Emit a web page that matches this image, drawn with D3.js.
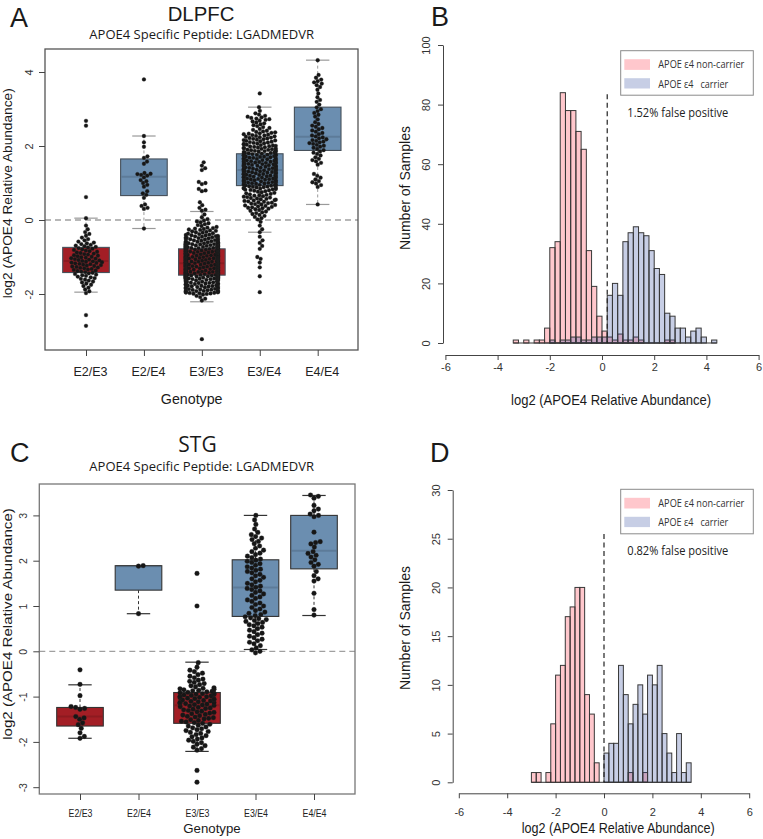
<!DOCTYPE html>
<html><head><meta charset="utf-8">
<script src="https://cdn.jsdelivr.net/npm/d3@7"></script>
<style>body{margin:0;background:#fff}svg{display:block}text{white-space:pre}</style>
</head><body>
<svg id="chart" width="763" height="839"></svg>
<script>
// ---------------- DATA ----------------
const genotypes = ["E2/E3", "E2/E4", "E3/E3", "E3/E4", "E4/E4"];
const carrier = [false, true, false, true, true];

// DLPFC box statistics
const dlpfcLower = [-1.95, -0.23, -2.21, -0.33, 0.42];
const dlpfcQ1 = [-1.42, 0.66, -1.49, 0.93, 1.88];
const dlpfcMedian = [-1.11, 1.17, -1.17, 1.35, 2.25];
const dlpfcQ3 = [-0.74, 1.65, -0.78, 1.79, 3.05];
const dlpfcUpper = [0.05, 2.27, 0.23, 3.05, 4.32];
// DLPFC swarm: counts per 0.1-wide bin, first bin centre
const dlpfcSwarmStart = [-1.95, 0, -2.15, -0.25, 0.42];
const dlpfcSwarmCounts = [
  [2,2,3,4,5,6,7,8,9,8,7,6,6,5,3,2,2,1,1,0,1],
  [],
  [2,3,16,14,15,15,38,38,36,35,35,34,32,32,30,29,13,13,8,8,4,4,2,1,1],
  [1,1,1,3,4,5,8,8,9,8,7,12,13,14,14,15,15,14,14,13,13,12,11,10,9,9,8,4,4,4,6,3,1,1],
  [1,0,0,0,0,2,3,2,2,0,0,2,3,2,3,3,4,5,4,3,3,3,2,1,2,2,2,1,2,1,1,1,2,3,2,1,0,0,0,1]
];
// DLPFC individually read points (outliers / small groups)
const dlpfcPoints = [
  [2.68, 2.55, 0.62, -2.57, -2.86],
  [3.80, 2.27, 2.10, 1.98, 1.72, 1.68, 1.58, 1.52, 1.27, 1.25, 1.24, 1.22, 1.20, 1.15, 1.08, 1.05, 1.00, 0.95, 0.90, 0.78, 0.72, 0.68, 0.60, 0.42, 0.38, 0.33, 0.30, -0.23],
  [1.56, 1.47, 1.40, 1.35, 1.03, 1.00, 0.97, 0.84, 0.80, 0.78, 0.48, 0.40, 0.33, 0.28, -3.22],
  [3.42, -0.33, -0.45, -0.55, -0.62, -0.70, -0.78, -1.00, -1.05, -1.15, -1.28, -1.52, -1.95],
  []
];

// STG box statistics
const stgLower = [-1.92, 0.83, -2.21, 0.04, 0.79];
const stgQ1 = [-1.65, 1.35, -1.59, 0.77, 1.82];
const stgMedian = [-1.44, 1.88, -1.19, 1.41, 2.22];
const stgQ3 = [-1.24, 1.89, -0.91, 2.02, 3.00];
const stgUpper = [-0.74, 1.89, -0.24, 3.00, 3.44];
const stgSwarmStart = [0, 0, -2.15, 0.0, 0];
const stgSwarmCounts = [
  [],
  [],
  [3,3,4,4,5,5,6,7,7,7,10,10,10,9,4,4,3,3,1,1],
  [3,2,3,3,3,3,4,5,4,3,3,3,3,3,4,3,3,3,4,3,4,3,3,2,2,3,2,1,1,1,1],
  []
];
const stgPoints = [
  [-0.41, -0.73, -0.98, -1.22, -1.24, -1.26, -1.28, -1.44, -1.47, -1.50, -1.58, -1.62, -1.70, -1.80, -1.88, -1.92],
  [1.88, 1.89, 0.83],
  [1.72, 1.00, -2.63, -2.89],
  [],
  [3.45, 3.42, 3.38, 3.22, 3.14, 3.10, 3.03, 3.00, 2.97, 2.63, 2.42, 2.40, 2.37, 2.30, 2.20, 2.16, 2.12, 2.08, 2.02, 1.96, 1.92, 1.88, 1.76, 1.67, 1.60, 1.55, 1.28, 0.92, 0.80]
];

// Histograms (bin width 0.2), first bin left edge + counts
const histBinWidth = 0.2;
const dlpfcNonCarrierStart = -3.4;
const dlpfcNonCarrierCounts = [1,0,1,0,1,1,5,32,34,84,78,78,71,65,31,19,9,4,2,1,3,1,1,2,1,0,0,0,0,1,1];
const dlpfcCarrierStart = -2.0;
const dlpfcCarrierCounts = [1,0,1,1,2,2,1,1,2,2,2,16,20,16,34,37,39,37,36,31,25,23,10,9,5,5,2,4,5,2,0,1];
const stgNonCarrierStart = -3.0;
const stgNonCarrierCounts = [1,1,0,1,6,11,12,17,18,20,20,9,7,2,0,0,0,0,0,0,1,0,0,1];
const stgCarrierStart = 0.0;
const stgCarrierCounts = [3,4,4,12,9,6,8,10,7,11,10,12,5,3,1,5,1,2];

const histXTicks = [-6, -4, -2, 0, 2, 4, 6];
const dlpfcHistYTicks = [0, 20, 40, 60, 80, 100];
const stgHistYTicks = [0, 5, 10, 15, 20, 25, 30];
const dlpfcThreshold = 0.2;
const stgThreshold = 0.0;
const dlpfcFalsePositive = "1.52% false positive";
const stgFalsePositive = "0.82% false positive";
const legendLabels = ["APOE \u03b54 non-carrier", "APOE \u03b54   carrier"];

// ---------------- DRAWING ----------------
const svg = d3.select("#chart");
const SANS = "'Liberation Sans', Arial, sans-serif";
const HUM = "'Open Sans', 'DejaVu Sans', sans-serif";
const RED = "#a31e25", BLUE = "#6b8eb0";
const PINK = "rgba(255,0,25,0.22)", LBLUE = "rgba(30,60,150,0.25)";

function txt(x, y, s, size, fam, opts = {}) {
  const t = svg.append("text").attr("x", x).attr("y", y).text(s)
    .attr("font-size", size).attr("font-family", fam)
    .attr("fill", opts.fill || "#1a1a1a")
    .attr("text-anchor", opts.anchor || "start");
  if (opts.len) t.attr("textLength", opts.len).attr("lengthAdjust", "spacingAndGlyphs");
  if (opts.rot) t.attr("transform", `rotate(-90,${x},${y})`);
  return t;
}

function expand(start, counts, step) {
  const out = [];
  counts.forEach((n, i) => {
    const c = start + i * step;
    for (let k = 0; k < n; k++) out.push(c + ((k + 0.5) / n - 0.5) * step);
  });
  return out;
}

function swarm(ys, D, w) {
  const order = ys.map((y, i) => i).sort((a, b) => ys[b] - ys[a]);
  const placed = [];
  const xs = new Array(ys.length);
  for (const i of order) {
    const y = ys[i];
    const near = placed.filter(p => Math.abs(p.y - y) < D);
    const cands = [0];
    near.forEach(p => {
      const dx = Math.sqrt(D * D - (p.y - y) * (p.y - y));
      cands.push(p.x + dx, p.x - dx);
    });
    cands.sort((a, b) => Math.abs(a) - Math.abs(b));
    let best = 0;
    for (const c of cands) {
      if (near.every(p => (p.x - c) * (p.x - c) + (p.y - y) * (p.y - y) >= D * D - 1e-6)) { best = c; break; }
    }
    placed.push({ x: best, y });
    xs[i] = best;
  }
  return xs.map(x => Math.max(-w, Math.min(w, x)));
}

function boxPanel(o) {
  const g = svg.append("g");
  const f = o.frame;
  const x = d3.scalePoint().domain(genotypes).range(o.xRange);
  const y = d3.scaleLinear().domain(o.yDomain).range([f.b, f.t]);

  g.append("line").attr("x1", f.l).attr("x2", f.r).attr("y1", y(0)).attr("y2", y(0))
    .attr("stroke", "#a0a0a0").attr("stroke-width", 1.3).attr("stroke-dasharray", "6,4");

  genotypes.forEach((gt, i) => {
    const cx = x(gt);
    const col = carrier[i] ? BLUE : RED;
    const q1 = o.q1[i], q3 = o.q3[i];
    const wk = (a, b) => g.append("line").attr("x1", cx).attr("x2", cx).attr("y1", y(a)).attr("y2", y(b))
      .attr("stroke", o.whiskerColor).attr("stroke-width", 1).attr("stroke-dasharray", "3,2.5");
    const cap = v => g.append("line").attr("x1", cx - o.capHalf).attr("x2", cx + o.capHalf).attr("y1", y(v)).attr("y2", y(v))
      .attr("stroke", o.whiskerColor).attr("stroke-width", 1.2);
    if (o.upper[i] > q3 + 1e-9) { wk(q3, o.upper[i]); cap(o.upper[i]); }
    if (o.lower[i] < q1 - 1e-9) { wk(q1, o.lower[i]); cap(o.lower[i]); }
    g.append("rect").attr("x", cx - o.boxHalf).attr("width", 2 * o.boxHalf)
      .attr("y", y(q3)).attr("height", y(q1) - y(q3))
      .attr("fill", col).attr("stroke", o.boxStroke).attr("stroke-width", 1.1);
    g.append("line").attr("x1", cx - o.boxHalf + 1).attr("x2", cx + o.boxHalf - 1)
      .attr("y1", y(o.median[i])).attr("y2", y(o.median[i]))
      .attr("stroke", "rgba(0,0,0,0.13)").attr("stroke-width", 2);
  });

  genotypes.forEach((gt, i) => {
    const vals = expand(o.swStart[i], o.swCounts[i], 0.1).concat(o.points[i]);
    const ys = vals.map(v => y(v));
    const xs = swarm(ys, 2 * o.r, o.corral);
    const cx = x(gt);
    g.selectAll(null).data(ys).enter().append("circle")
      .attr("cx", (d, k) => cx + xs[k]).attr("cy", d => d).attr("r", o.r)
      .attr("fill", "#161616").attr("stroke", "#2a2a2a").attr("stroke-width", 0.3);
  });

  g.append("rect").attr("x", f.l).attr("y", f.t).attr("width", f.r - f.l).attr("height", f.b - f.t)
    .attr("fill", "none").attr("stroke", o.frameColor).attr("stroke-width", 1.3);

  const yg = g.append("g").attr("transform", `translate(${f.l},0)`)
    .call(d3.axisLeft(y).tickValues(o.yTicks).tickSize(6).tickFormat(d => String(d)));
  yg.select(".domain").remove();
  yg.selectAll(".tick line").attr("stroke", "#444");
  yg.selectAll(".tick text").attr("x", null).attr("dy", null)
    .attr("transform", `translate(${o.yLabDx},0) rotate(-90)`).attr("text-anchor", "middle")
    .attr("font-size", o.yTickSize).attr("font-family", SANS).attr("fill", "#333");
  const xg = g.append("g").attr("transform", `translate(0,${f.b})`)
    .call(d3.axisBottom(x).tickSize(6).tickSizeOuter(0));
  xg.select(".domain").remove();
  xg.selectAll(".tick line").attr("stroke", "#444");
  const xt = xg.selectAll(".tick text").attr("y", o.xLabDy).attr("dy", null).attr("x", o.xLabDx)
    .attr("font-size", o.xTickSize).attr("font-family", SANS).attr("fill", "#222");
  if (o.xTickLen) xt.attr("textLength", o.xTickLen).attr("lengthAdjust", "spacingAndGlyphs");
}

function histPanel(o) {
  const g = svg.append("g");
  const x = d3.scaleLinear().domain([-6, 6]).range(o.xRange);
  const y = d3.scaleLinear().domain([0, o.yMax]).range(o.yRange);
  const drawSeries = (start, counts, fill) => {
    g.append("line").attr("x1", x(start)).attr("x2", x(start + counts.length * histBinWidth))
      .attr("y1", y(0)).attr("y2", y(0)).attr("stroke", "#333").attr("stroke-width", 1);
    counts.forEach((c, i) => {
      if (c <= 0) return;
      const lo = start + i * histBinWidth;
      g.append("rect").attr("x", x(lo)).attr("width", x(lo + histBinWidth) - x(lo))
        .attr("y", y(c)).attr("height", y(0) - y(c))
        .attr("fill", fill).attr("stroke", "#383838").attr("stroke-width", 1);
    });
  };
  drawSeries(o.ncStart, o.ncCounts, PINK);
  drawSeries(o.cStart, o.cCounts, LBLUE);

  g.append("line").attr("x1", x(o.threshold)).attr("x2", x(o.threshold))
    .attr("y1", o.dashTop).attr("y2", y(0)).attr("stroke", "#222").attr("stroke-width", 1.2)
    .attr("stroke-dasharray", "5,3.5");

  const yg = g.append("g").attr("transform", `translate(${o.yAxisX},0)`)
    .call(d3.axisLeft(y).tickValues(o.yTicks).tickSize(5).tickSizeOuter(0).tickFormat(d => String(d)));
  yg.selectAll("path,line").attr("stroke", "#444");
  yg.selectAll(".tick text").attr("x", null).attr("dy", null)
    .attr("transform", `translate(${o.yLabDx},0) rotate(-90)`).attr("text-anchor", "middle")
    .attr("font-size", 11).attr("font-family", SANS).attr("fill", "#333");
  const xg = g.append("g").attr("transform", `translate(0,${o.xAxisY})`)
    .call(d3.axisBottom(x).tickValues(histXTicks).tickSize(5).tickSizeOuter(0).tickFormat(d => String(d)));
  xg.selectAll("path,line").attr("stroke", "#444");
  xg.selectAll(".tick text").attr("y", o.xLabDy).attr("dy", null)
    .attr("font-size", 11).attr("font-family", SANS).attr("fill", "#333");

  const L = o.legend;
  g.append("rect").attr("x", 620.7).attr("y", L.y).attr("width", 132.6).attr("height", 44.5)
    .attr("fill", "#fff").attr("stroke", "#8a8a8a").attr("stroke-width", 1);
  g.append("rect").attr("x", 624.3).attr("y", L.y + 8.5).attr("width", 25.7).attr("height", 10.7).attr("fill", PINK);
  g.append("rect").attr("x", 624.3).attr("y", L.y + 27.5).attr("width", 25.7).attr("height", 10.3).attr("fill", LBLUE);
  txt(658.3, L.y + 17.4, legendLabels[0], 10.3, HUM, { len: 86, fill: "#333" });
  txt(658.3, L.y + 37.1, legendLabels[1], 10.3, HUM, { len: 70, fill: "#333" });
  txt(627.3, o.fpY, o.fpText, 12, HUM, { len: 101, fill: "#222" });
}

// Panel A
boxPanel({
  frame: { l: 45, r: 358, t: 49, b: 350 }, xRange: [86, 317.7],
  yDomain: [(220 - 350) / 37, (220 - 49) / 37], yTicks: [-2, 0, 2, 4],
  lower: dlpfcLower, q1: dlpfcQ1, median: dlpfcMedian, q3: dlpfcQ3, upper: dlpfcUpper,
  swStart: dlpfcSwarmStart, swCounts: dlpfcSwarmCounts, points: dlpfcPoints,
  r: 1.9, corral: 16, boxHalf: 23.3, capHalf: 11.7,
  whiskerColor: "#9a9a9a", boxStroke: "#46505a", frameColor: "#555",
  yLabDx: -11.7, yTickSize: 11, xLabDy: 26, xLabDx: 4, xTickSize: 12.5
});
// Panel C
boxPanel({
  frame: { l: 39.3, r: 355, t: 484, b: 794 }, xRange: [80, 314],
  yDomain: [(651.3 - 794) / 45.3, (651.3 - 484) / 45.3], yTicks: [-3, -2, -1, 0, 1, 2, 3],
  lower: stgLower, q1: stgQ1, median: stgMedian, q3: stgQ3, upper: stgUpper,
  swStart: stgSwarmStart, swCounts: stgSwarmCounts, points: stgPoints,
  r: 2.35, corral: 17, boxHalf: 23.3, capHalf: 11.7,
  whiskerColor: "#333", boxStroke: "#333", frameColor: "#777",
  yLabDx: -12.6, yTickSize: 10.5, xLabDy: 22.7, xLabDx: 0, xTickSize: 11.5, xTickLen: 24
});
// Panel B
histPanel({
  xRange: [445.4, 758.6], yMax: 100, yRange: [343, 45], yTicks: dlpfcHistYTicks,
  ncStart: dlpfcNonCarrierStart, ncCounts: dlpfcNonCarrierCounts,
  cStart: dlpfcCarrierStart, cCounts: dlpfcCarrierCounts,
  threshold: dlpfcThreshold, dashTop: 94.3,
  yAxisX: 443, yLabDx: -13, xAxisY: 355, xLabDy: 15.7,
  legend: { y: 50.7 }, fpText: dlpfcFalsePositive, fpY: 116.7
});
// Panel D
histPanel({
  xRange: [458.8, 749.2], yMax: 30, yRange: [782.3, 490], yTicks: stgHistYTicks,
  ncStart: stgNonCarrierStart, ncCounts: stgNonCarrierCounts,
  cStart: stgCarrierStart, cCounts: stgCarrierCounts,
  threshold: stgThreshold, dashTop: 534,
  yAxisX: 452.7, yLabDx: -12.7, xAxisY: 793.3, xLabDy: 22.7,
  legend: { y: 489.3 }, fpText: stgFalsePositive, fpY: 554.7
});

// Titles, panel letters and axis titles
txt(10, 26.7, "A", 27, SANS);
txt(201, 20.5, "DLPFC", 21, SANS, { anchor: "middle", len: 66.7 });
txt(201.7, 38.8, "APOE4 Specific Peptide: LGADMEDVR", 13, HUM, { anchor: "middle", len: 224.7 });
txt(12.3, 193.3, "log2 (APOE4 Relative Abundance)", 13.6, SANS, { anchor: "middle", rot: true, len: 210 });
txt(191.7, 403.5, "Genotype", 14, SANS, { anchor: "middle", len: 61.7 });

txt(431, 26, "B", 27, SANS);
txt(410.4, 188, "Number of Samples", 14, SANS, { anchor: "middle", rot: true, len: 124 });
txt(611, 404.5, "log2 (APOE4 Relative Abundance)", 15, SANS, { anchor: "middle", len: 200 });

txt(10, 461.7, "C", 27, SANS);
txt(197.5, 451.7, "STG", 22.5, HUM, { anchor: "middle", len: 38.3 });
txt(201.7, 470.5, "APOE4 Specific Peptide: LGADMEDVR", 13, HUM, { anchor: "middle", len: 224.7 });
txt(12.3, 624, "log2 (APOE4 Relative Abundance)", 13.6, SANS, { anchor: "middle", rot: true, len: 231.7 });
txt(212, 832.5, "Genotype", 13.5, SANS, { anchor: "middle", len: 57.4 });

txt(430, 461.7, "D", 27, SANS);
txt(410.4, 628, "Number of Samples", 14, SANS, { anchor: "middle", rot: true, len: 124 });
txt(618.3, 832.5, "log2 (APOE4 Relative Abundance)", 15, SANS, { anchor: "middle", len: 193 });
</script>
</body></html>
